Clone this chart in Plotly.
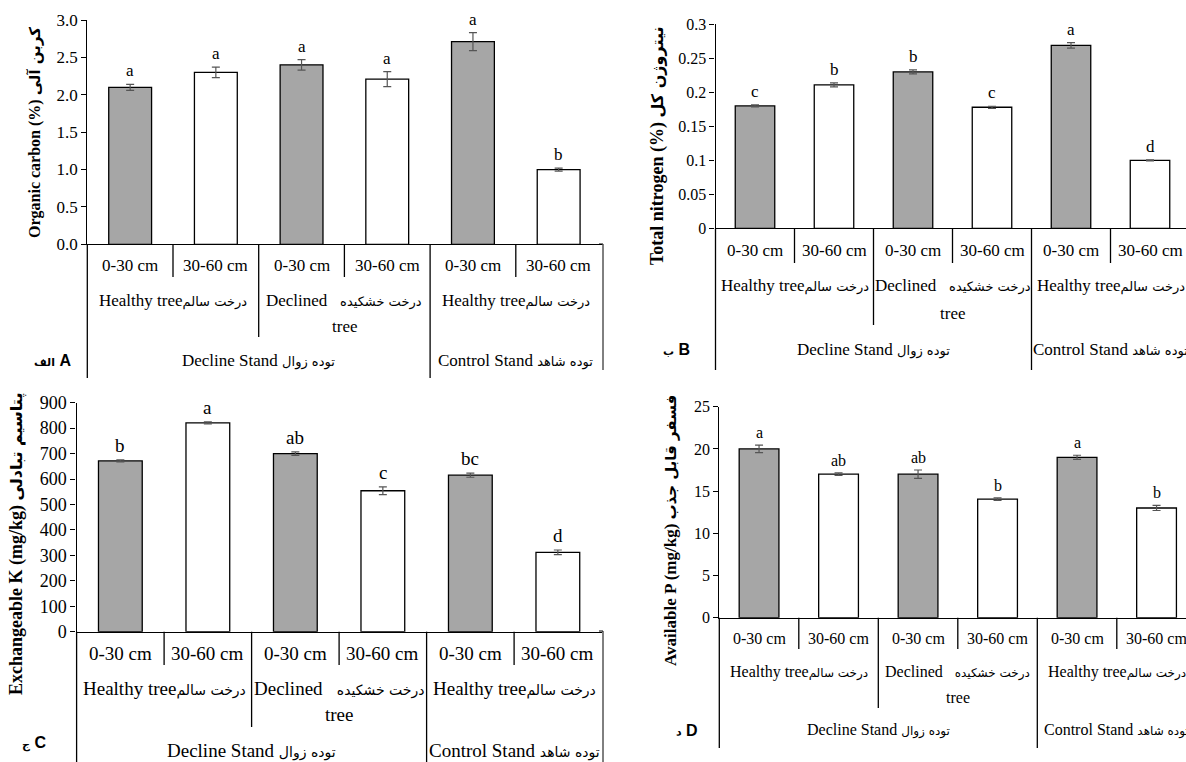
import plotly.graph_objects as go

W, H = 1186, 762

# ---------------- data ----------------
depths = ["0-30 cm", "30-60 cm", "0-30 cm", "30-60 cm", "0-30 cm", "30-60 cm"]
tree_en = ["Healthy tree", "Declined", "Healthy tree"]
tree_fa = ["درخت سالم", "درخت خشکیده", "درخت سالم"]
tree_line2 = ["", "tree", ""]
stand_en = ["Decline Stand", "Control Stand"]
stand_fa = ["توده زوال", "توده شاهد"]

carbon = [2.10, 2.30, 2.40, 2.21, 2.71, 1.00]
carbon_err = [0.04, 0.07, 0.07, 0.10, 0.12, 0.02]
carbon_letters = ["a", "a", "a", "a", "a", "b"]

nitrogen = [0.180, 0.211, 0.230, 0.178, 0.269, 0.100]
nitrogen_err = [0.0015, 0.003, 0.003, 0.0015, 0.004, 0.0007]
nitrogen_letters = ["c", "b", "b", "c", "a", "d"]

potassium = [671, 821, 700, 554, 615, 312]
potassium_err = [4, 4, 7, 15, 8, 9]
potassium_letters = ["b", "a", "ab", "c", "bc", "d"]

phosphorus = [20.0, 17.0, 17.0, 14.05, 19.0, 13.0]
phosphorus_err = [0.45, 0.15, 0.5, 0.15, 0.25, 0.3]
phosphorus_letters = ["a", "ab", "ab", "b", "a", "b"]

titles_en = ["Organic carbon (%)", "Total nitrogen (%)", "Exchangeable K (mg/kg)", "Available P (mg/kg)"]
titles_fa = ["کربن آلی", "نیتروژن کل", "پتاسیم تبادلی", "فسفر قابل جذب"]
tags_en = ["A", "B", "C", "D"]
tags_fa = ["الف", "ب", "ج", "د"]

series = [
    (carbon, carbon_err, carbon_letters),
    (nitrogen, nitrogen_err, nitrogen_letters),
    (potassium, potassium_err, potassium_letters),
    (phosphorus, phosphorus_err, phosphorus_letters),
]

# ---------------- layout geometry (pixels) ----------------
panels = [
    dict(x0=87.3, cw=85.7, zero=244.3, top=20.0, ymax=3.0, dtick=0.5, fmt=".1f",
         L1=265, L2=300, Lt=326, L3=360, s_short=277, s_med=337, s_full=378,
         title_xy=(35, 133), tag_xy=(52, 360),
         fs_tick=17, fs_cat=17, fs_title=16, fs_title_fa=15),
    dict(x0=715.5, cw=79.0, zero=228.3, top=24.3, ymax=0.3, dtick=0.05, fmt="",
         L1=251, L2=286, Lt=313, L3=350, s_short=263, s_med=325, s_full=370,
         title_xy=(658, 146), tag_xy=(676, 350),
         fs_tick=16, fs_cat=17, fs_title=18, fs_title_fa=16),
    dict(x0=76.6, cw=87.5, zero=631.7, top=402.7, ymax=900, dtick=100, fmt="",
         L1=653, L2=688, Lt=714, L3=750, s_short=665, s_med=727, s_full=762,
         title_xy=(16, 544), tag_xy=(34, 743),
         fs_tick=18, fs_cat=19, fs_title=18, fs_title_fa=16),
    dict(x0=719.3, cw=79.5, zero=617.7, top=406.7, ymax=25, dtick=5, fmt="",
         L1=638, L2=672, Lt=697, L3=730, s_short=649, s_med=708, s_full=748,
         title_xy=(670, 531), tag_xy=(687, 730),
         fs_tick=16, fs_cat=16, fs_title=17, fs_title_fa=15),
]

SERIF = "Liberation Serif, DejaVu Sans"
FA = "DejaVu Sans"
GRAY = "#a6a6a6"


def py(p):
    return 1 - p / H


def fa_span(text, size, bold=False):
    w = "font-weight:bold;" if bold else ""
    return f"<span style='font-family:{FA};font-size:{size}px;{w}'>{text}</span>"


fig = go.Figure()
annotations = []
shapes = []

for k, (p, (vals, errs, letters)) in enumerate(zip(panels, series)):
    sfx = "" if k == 0 else str(k + 1)
    xa, ya = "x" + sfx, "y" + sfx
    colors = [GRAY if i % 2 == 0 else "white" for i in range(len(vals))]
    fig.add_trace(go.Bar(
        x=list(range(len(vals))), y=vals, width=0.5,
        marker=dict(color=colors, line=dict(color="black", width=1.3)),
        error_y=dict(type="data", array=errs, visible=True, color="#555555",
                     thickness=1.2, width=4),
        xaxis=xa, yaxis=ya, showlegend=False, hoverinfo="y",
    ))

    x_end_px = p["x0"] + 6 * p["cw"]
    dom_x1 = min(1.0, x_end_px / W)
    rng_x1 = -0.5 + (dom_x1 * W - p["x0"]) / p["cw"]

    fig.layout["xaxis" + sfx] = dict(
        domain=[p["x0"] / W, dom_x1], range=[-0.5, rng_x1], anchor=ya,
        showline=True, linecolor="black", linewidth=1.3, showticklabels=False,
        ticks="", showgrid=False, zeroline=False, fixedrange=True, automargin=False,
    )
    yax = dict(
        domain=[py(p["zero"]), py(p["top"])], range=[0, p["ymax"]], anchor=xa,
        showline=True, linecolor="black", linewidth=1.3, ticks="outside",
        ticklen=5, tickcolor="black", dtick=p["dtick"], tick0=0,
        showgrid=False, zeroline=False, automargin=False,
        tickfont=dict(family=SERIF, size=p["fs_tick"], color="black"),
    )
    if p["fmt"]:
        yax["tickformat"] = p["fmt"]
    fig.layout["yaxis" + sfx] = yax

    catfont = dict(family=SERIF, size=p["fs_cat"], color="black")
    fa2 = round(p["fs_cat"] * 0.76)
    fa3 = round(p["fs_cat"] * 0.76)

    # y axis extension below the plot
    shapes.append(dict(type="line", xref=xa + " domain", yref="paper",
                       x0=0, x1=0, y0=py(p["zero"]), y1=py(p["s_full"]),
                       line=dict(color="black", width=1.3)))
    # separators
    for xs, yend in [(0.5, p["s_short"]), (1.5, p["s_med"]), (2.5, p["s_short"]),
                     (3.5, p["s_full"]), (4.5, p["s_short"])]:
        shapes.append(dict(type="line", xref=xa, yref="paper",
                           x0=xs, x1=xs, y0=py(p["zero"]), y1=py(yend),
                           line=dict(color="black", width=1.3)))

    # level-1 labels
    for i, d in enumerate(depths):
        annotations.append(dict(xref=xa, yref="paper", x=i, y=py(p["L1"]),
                                text=d, showarrow=False, yanchor="middle", font=catfont))
    # level-2 labels
    for j, (en, fa, l2) in enumerate(zip(tree_en, tree_fa, tree_line2)):
        sep = "\u00a0\u00a0\u00a0" if l2 else ""
        annotations.append(dict(xref=xa, yref="paper", x=2 * j + 0.5, y=py(p["L2"]),
                                text=en + sep + fa_span(fa, fa2),
                                showarrow=False, yanchor="middle", font=catfont))
        if l2:
            annotations.append(dict(xref=xa, yref="paper", x=2 * j + 0.5, y=py(p["Lt"]),
                                    text=l2, showarrow=False, yanchor="middle", font=catfont))
    # level-3 labels
    for xc, en, fa in zip([1.5, 4.5], stand_en, stand_fa):
        annotations.append(dict(xref=xa, yref="paper", x=xc, y=py(p["L3"]),
                                text=en + "\u00a0" + fa_span(fa, fa3),
                                showarrow=False, yanchor="middle", font=catfont))
    # significance letters
    for i, (v, e, l) in enumerate(zip(vals, errs, letters)):
        annotations.append(dict(xref=xa, yref=ya, x=i, y=v + e, text=l,
                                showarrow=False, yanchor="bottom", yshift=2, font=catfont))
    # axis title
    tx, ty = p["title_xy"]
    annotations.append(dict(xref="paper", yref="paper", x=tx / W, y=py(ty),
                            text="<b>" + titles_en[k] + "\u00a0" + fa_span(titles_fa[k], p["fs_title_fa"], True) + "</b>",
                            textangle=-90, showarrow=False, xanchor="center", yanchor="middle",
                            font=dict(family=SERIF, size=p["fs_title"], color="black")))
    # panel tag
    gx, gy = p["tag_xy"]
    annotations.append(dict(xref="paper", yref="paper", x=gx / W, y=py(gy),
                            text="<b>" + fa_span(tags_fa[k], 11, True) + "\u00a0" + tags_en[k] + "</b>",
                            showarrow=False, xanchor="center", yanchor="middle",
                            font=dict(family="Liberation Sans, DejaVu Sans", size=16, color="black")))

# frame remnants at the left edge of the right-hand panels
for y0, y1 in [(244, 370), (631, 762)]:
    shapes.append(dict(type="line", xref="paper", yref="paper",
                       x0=603 / W, x1=603 / W, y0=py(y0), y1=py(y1),
                       line=dict(color="black", width=1)))
    shapes.append(dict(type="line", xref="paper", yref="paper",
                       x0=599 / W, x1=603 / W, y0=py(y0), y1=py(y0),
                       line=dict(color="black", width=1)))

fig.update_layout(
    width=W, height=H, margin=dict(l=0, r=0, t=0, b=0, pad=0, autoexpand=False),
    paper_bgcolor="white", plot_bgcolor="white",
    annotations=annotations, shapes=shapes, bargap=0.5,
)

fig.write_html(
    "out.html",
    config={"displayModeBar": False},
    post_script="document.body.style.margin='0px';document.body.style.overflow='hidden';",
)
